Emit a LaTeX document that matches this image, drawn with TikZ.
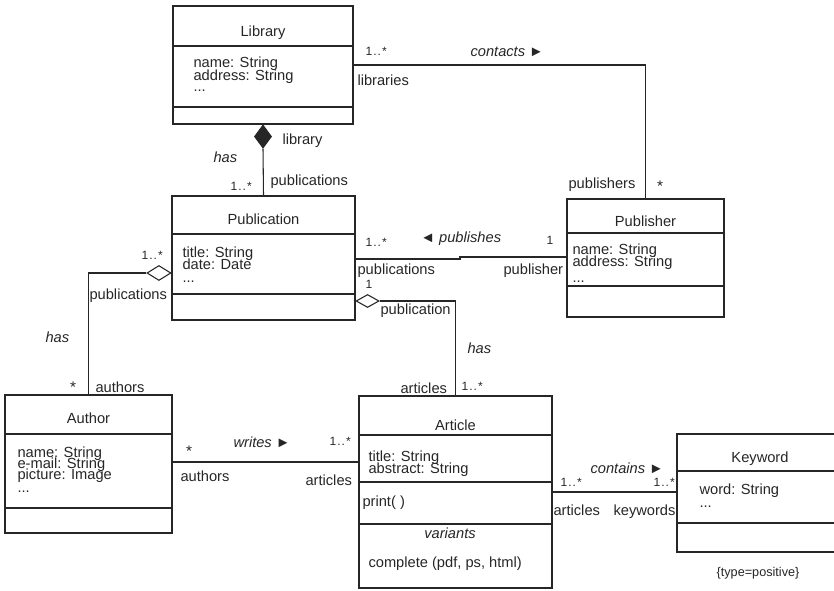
\documentclass[tikz,border=0pt]{standalone}
\usepackage{fontspec}
\setmainfont{Liberation Sans}
\usetikzlibrary{fit,shapes.geometric}
\newcommand{\mult}{1\kern0.8pt.\kern0.8pt.\kern0.8pt*}
\begin{document}
\begin{tikzpicture}[x=0.75pt,y=-0.75pt,
  color=black!85, line width=0.8pt,
  every node/.style={font=\fontsize{11}{13}\selectfont},
  cls/.style={draw, inner sep=0pt, fit={#1}},
  ttl/.style={inner sep=0pt, anchor=base},
  lbl/.style={inner sep=0pt, anchor=base west},
  mlt/.style={inner sep=0pt, anchor=base west, font=\fontsize{9}{10}\selectfont},
  star/.style={inner sep=0pt, anchor=center, font=\fontsize{11.5}{12}\selectfont},
  agg/.style={diamond, draw, fill=white, inner sep=0pt},
  comp/.style={diamond, draw, fill=black!85, inner sep=0pt}]
\useasboundingbox (0,0) rectangle (834,591);

% ---------- classes ----------
\node[cls={(173,6) (353,124)}] (lib) {};
\draw (lib.west |- 0,46) -- (lib.east |- 0,46);
\draw (lib.west |- 0,107) -- (lib.east |- 0,107);
\node[ttl] (libt) at (263,37) {Library};
\node[lbl] (liba1) at (193,68) {name: String};
\node[lbl] (liba2) at (193,81) {address: String};
\node[lbl] (liba3) at (193,92) {...};

\node[cls={(172,196) (355,320)}] (pubn) {};
\draw (pubn.west |- 0,234) -- (pubn.east |- 0,234);
\draw (pubn.west |- 0,294) -- (pubn.east |- 0,294);
\node[ttl] (pubnt) at (263.5,225) {Publication};
\node[lbl] (pubna1) at (182,258) {title: String};
\node[lbl] (pubna2) at (182,270) {date: Date};
\node[lbl] (pubna3) at (182,282) {...};

\node[cls={(567,199) (724,317)}] (pubr) {};
\draw (pubr.west |- 0,233) -- (pubr.east |- 0,233);
\draw (pubr.west |- 0,286) -- (pubr.east |- 0,286);
\node[ttl] (pubrt) at (645.5,227) {Publisher};
\node[lbl] (pubra1) at (572,255) {name: String};
\node[lbl] (pubra2) at (572,267) {address: String};
\node[lbl] (pubra3) at (572,282) {...};

\node[cls={(5,395) (172,533)}] (auth) {};
\draw (auth.west |- 0,434) -- (auth.east |- 0,434);
\draw (auth.west |- 0,508) -- (auth.east |- 0,508);
\node[ttl] (autht) at (88.5,423) {Author};
\node[lbl] (autha1) at (17,457) {name: String};
\node[lbl] (autha2) at (17,468) {e-mail: String};
\node[lbl] (autha3) at (17,479) {picture: Image};
\node[lbl] (autha4) at (17,492) {...};

\node[cls={(359,396) (552,588)}] (art) {};
\draw (art.west |- 0,435) -- (art.east |- 0,435);
\draw (art.west |- 0,482) -- (art.east |- 0,482);
\draw (art.west |- 0,524) -- (art.east |- 0,524);
\node[ttl] (artt) at (455.5,430) {Article};
\node[lbl] (arta1) at (368,461) {title: String};
\node[lbl] (arta2) at (368,473) {abstract: String};
\node[lbl] (arto1) at (362,506) {print( )};
\node[ttl] (artv) at (450,538) {\itshape variants};
\node[lbl] (artv1) at (368,567) {complete (pdf, ps, html)};

\node[cls={(677,434) (835,552)}] (kw) {};
\draw (kw.west |- 0,471) -- (kw.east |- 0,471);
\draw (kw.west |- 0,523) -- (kw.east |- 0,523);
\node[ttl] (kwt) at (760,462) {Keyword};
\node[lbl] (kwa1) at (699,494) {word: String};
\node[lbl] (kwa2) at (699,507) {...};
\node[ttl, font=\fontsize{9.5}{11}\selectfont] (kwc) at (758,576) {\{type=positive\}};

% ---------- Library -- Publisher ----------
\draw (lib.east) -| (pubr.north);
\node[mlt] at (365,56) {\mult};
\node[lbl] at (470,57) {\itshape contacts \upshape►};
\node[lbl] at (357,86) {libraries};
\node[lbl] at (568,189) {publishers};
\node[star] at (660,186) {*};

% ---------- Library <>-- Publication ----------
\node[comp, minimum width=12.75pt, minimum height=17.25pt, anchor=north] (dlib) at (lib.south) {};
\draw (dlib.south) -- (pubn.north);
\node[lbl] at (282,145) {library};
\node[lbl] at (213,163) {\itshape has};
\node[mlt] at (230,191) {\mult};
\node[lbl] at (270,186) {publications};

% ---------- Publication <>-- Author ----------
\node[agg, minimum width=18pt, minimum height=11.25pt, anchor=east] (dauth) at (pubn.west |- 0,273) {};
\draw (dauth.west) -| (auth.north);
\node[mlt] at (141,260) {\mult};
\node[lbl] at (89,300) {publications};
\node[lbl] at (45,342) {\itshape has};
\node[star] at (73,387) {*};
\node[lbl] at (95,392) {authors};

% ---------- Publication -- Publisher ----------
\coordinate (jog) at (460,259);
\draw (pubn.east |- jog) -- (jog) -- ++(0,-2) -- (pubr.west |- 0,257);
\node[mlt] at (365,247) {\mult};
\node[lbl] at (420,243) {◄ \itshape publishes};
\node[mlt] at (546,245) {1};
\node[lbl] at (357,275) {publications};
\node[lbl] at (503,275) {publisher};

% ---------- Publication <>-- Article ----------
\node[agg, minimum width=17.25pt, minimum height=9.75pt, anchor=west] (dart) at (pubn.east |- 0,301) {};
\draw (dart.east) -| (art.north);
\node[mlt] at (365,288) {1};
\node[lbl] at (380,314) {publication};
\node[lbl] at (467,353) {\itshape has};
\node[lbl] at (400,393) {articles};
\node[mlt] at (461,390) {\mult};

% ---------- Author -- Article ----------
\draw (auth.east |- 0,462) -- (art.west |- 0,462);
\node[star] at (189,451) {*};
\node[lbl] at (233,447) {\itshape writes \upshape►};
\node[mlt] at (329,445) {\mult};
\node[lbl] at (180,481) {authors};
\node[lbl] at (305,485) {articles};

% ---------- Article -- Keyword ----------
\draw (art.east) -- (kw.west |- art.east);
\node[lbl] at (590,473) {\itshape contains \upshape►};
\node[mlt] at (560,486) {\mult};
\node[mlt] at (653,486) {\mult};
\node[lbl] at (553,515) {articles};
\node[lbl] at (613,515) {keywords};
\end{tikzpicture}
\end{document}
